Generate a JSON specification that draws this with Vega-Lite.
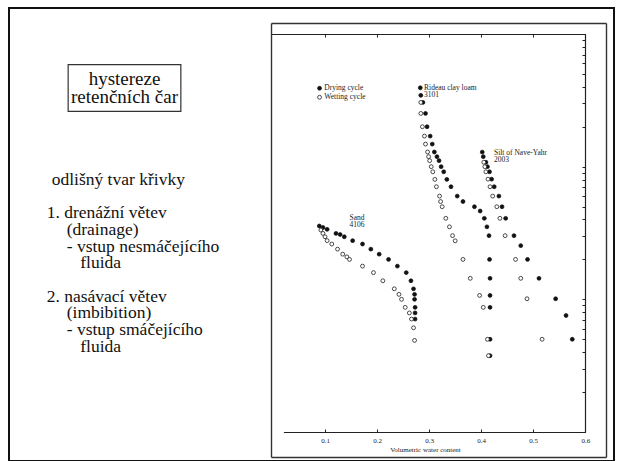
{
  "$schema": "https://vega.github.io/schema/vega-lite/v6.json",
  "width": 605,
  "height": 453,
  "autosize": {"type": "none"},
  "padding": {"left": 9, "top": 8, "right": 4, "bottom": 0},
  "background": "white",
  "config": {
    "view": {"stroke": "#111", "strokeWidth": 2},
    "font": "Liberation Serif, Times New Roman, serif",
    "text": {"font": "Liberation Serif, Times New Roman, serif"},
    "axis": {"grid": false, "domainColor": "#222", "tickColor": "#222", "labelFlush": false, "labelOverlap": false}
  },
  "datasets": {
    "title": [
      {"text": ["hystereze", "retenčních čar"], "line": -5.52, "indent": 15.56}
    ],
    "body": [
      {"text": "odlišný tvar křivky", "line": 0, "indent": 1},
      {"text": "1. drenážní větev", "line": 2, "indent": 0},
      {"text": "(drainage)", "line": 3, "indent": 4},
      {"text": "- vstup nesmáčejícího", "line": 4, "indent": 4},
      {"text": "fluida", "line": 5, "indent": 6.7},
      {"text": "2. nasávací větev", "line": 7, "indent": 0},
      {"text": "(imbibition)", "line": 8, "indent": 4},
      {"text": "- vstup smáčejícího", "line": 9, "indent": 4},
      {"text": "fluida", "line": 10, "indent": 6.7}
    ],
    "labels": [
      {"text": ["Sand", "4106"], "wc": 0.1471, "suction": 38.4},
      {"text": ["Rideau clay loam", "3101"], "wc": 0.2902, "suction": 369.5},
      {"text": ["Silt of Nave-Yahr", "2003"], "wc": 0.4246, "suction": 119.8}
    ],
    "points": [
      {"soil": "Sand", "cycle": "Drying cycle", "wc": 0.089, "suction": 35.7},
      {"soil": "Sand", "cycle": "Drying cycle", "wc": 0.096, "suction": 34.8},
      {"soil": "Sand", "cycle": "Drying cycle", "wc": 0.104, "suction": 33.7},
      {"soil": "Sand", "cycle": "Drying cycle", "wc": 0.121, "suction": 31.4},
      {"soil": "Sand", "cycle": "Drying cycle", "wc": 0.129, "suction": 30.8},
      {"soil": "Sand", "cycle": "Drying cycle", "wc": 0.137, "suction": 29.6},
      {"soil": "Sand", "cycle": "Drying cycle", "wc": 0.153, "suction": 27.7},
      {"soil": "Sand", "cycle": "Drying cycle", "wc": 0.172, "suction": 26.1},
      {"soil": "Sand", "cycle": "Drying cycle", "wc": 0.188, "suction": 23.9},
      {"soil": "Sand", "cycle": "Drying cycle", "wc": 0.204, "suction": 21.9},
      {"soil": "Sand", "cycle": "Drying cycle", "wc": 0.222, "suction": 20.0},
      {"soil": "Sand", "cycle": "Drying cycle", "wc": 0.239, "suction": 17.8},
      {"soil": "Sand", "cycle": "Drying cycle", "wc": 0.256, "suction": 15.9},
      {"soil": "Sand", "cycle": "Drying cycle", "wc": 0.265, "suction": 13.8},
      {"soil": "Sand", "cycle": "Drying cycle", "wc": 0.270, "suction": 12.0},
      {"soil": "Sand", "cycle": "Drying cycle", "wc": 0.272, "suction": 10.9},
      {"soil": "Sand", "cycle": "Drying cycle", "wc": 0.272, "suction": 10.0},
      {"soil": "Sand", "cycle": "Drying cycle", "wc": 0.273, "suction": 8.7},
      {"soil": "Sand", "cycle": "Drying cycle", "wc": 0.273, "suction": 7.9},
      {"soil": "Sand", "cycle": "Drying cycle", "wc": 0.273, "suction": 7.1},
      {"soil": "Sand", "cycle": "Wetting cycle", "wc": 0.092, "suction": 33.3},
      {"soil": "Sand", "cycle": "Wetting cycle", "wc": 0.096, "suction": 31.4},
      {"soil": "Sand", "cycle": "Wetting cycle", "wc": 0.100, "suction": 29.6},
      {"soil": "Sand", "cycle": "Wetting cycle", "wc": 0.104, "suction": 27.7},
      {"soil": "Sand", "cycle": "Wetting cycle", "wc": 0.113, "suction": 26.1},
      {"soil": "Sand", "cycle": "Wetting cycle", "wc": 0.124, "suction": 23.9},
      {"soil": "Sand", "cycle": "Wetting cycle", "wc": 0.134, "suction": 21.9},
      {"soil": "Sand", "cycle": "Wetting cycle", "wc": 0.142, "suction": 20.9},
      {"soil": "Sand", "cycle": "Wetting cycle", "wc": 0.147, "suction": 20.0},
      {"soil": "Sand", "cycle": "Wetting cycle", "wc": 0.172, "suction": 17.8},
      {"soil": "Sand", "cycle": "Wetting cycle", "wc": 0.193, "suction": 15.9},
      {"soil": "Sand", "cycle": "Wetting cycle", "wc": 0.211, "suction": 13.8},
      {"soil": "Sand", "cycle": "Wetting cycle", "wc": 0.233, "suction": 12.0},
      {"soil": "Sand", "cycle": "Wetting cycle", "wc": 0.242, "suction": 10.9},
      {"soil": "Sand", "cycle": "Wetting cycle", "wc": 0.247, "suction": 10.0},
      {"soil": "Sand", "cycle": "Wetting cycle", "wc": 0.254, "suction": 8.7},
      {"soil": "Sand", "cycle": "Wetting cycle", "wc": 0.262, "suction": 7.9},
      {"soil": "Sand", "cycle": "Wetting cycle", "wc": 0.266, "suction": 7.1},
      {"soil": "Sand", "cycle": "Wetting cycle", "wc": 0.270, "suction": 6.1},
      {"soil": "Sand", "cycle": "Wetting cycle", "wc": 0.272, "suction": 4.9},
      {"soil": "Rideau clay loam", "cycle": "Drying cycle", "wc": 0.283, "suction": 393},
      {"soil": "Rideau clay loam", "cycle": "Drying cycle", "wc": 0.284, "suction": 345},
      {"soil": "Rideau clay loam", "cycle": "Drying cycle", "wc": 0.288, "suction": 305},
      {"soil": "Rideau clay loam", "cycle": "Drying cycle", "wc": 0.293, "suction": 252},
      {"soil": "Rideau clay loam", "cycle": "Drying cycle", "wc": 0.296, "suction": 200},
      {"soil": "Rideau clay loam", "cycle": "Drying cycle", "wc": 0.302, "suction": 170},
      {"soil": "Rideau clay loam", "cycle": "Drying cycle", "wc": 0.306, "suction": 148},
      {"soil": "Rideau clay loam", "cycle": "Drying cycle", "wc": 0.310, "suction": 129},
      {"soil": "Rideau clay loam", "cycle": "Drying cycle", "wc": 0.315, "suction": 119},
      {"soil": "Rideau clay loam", "cycle": "Drying cycle", "wc": 0.319, "suction": 111},
      {"soil": "Rideau clay loam", "cycle": "Drying cycle", "wc": 0.323, "suction": 100},
      {"soil": "Rideau clay loam", "cycle": "Drying cycle", "wc": 0.328, "suction": 91.5},
      {"soil": "Rideau clay loam", "cycle": "Drying cycle", "wc": 0.334, "suction": 80.2},
      {"soil": "Rideau clay loam", "cycle": "Drying cycle", "wc": 0.342, "suction": 70.6},
      {"soil": "Rideau clay loam", "cycle": "Drying cycle", "wc": 0.354, "suction": 60},
      {"soil": "Rideau clay loam", "cycle": "Drying cycle", "wc": 0.365, "suction": 54.6},
      {"soil": "Rideau clay loam", "cycle": "Drying cycle", "wc": 0.387, "suction": 49.9},
      {"soil": "Rideau clay loam", "cycle": "Drying cycle", "wc": 0.398, "suction": 46.3},
      {"soil": "Rideau clay loam", "cycle": "Drying cycle", "wc": 0.406, "suction": 40.8},
      {"soil": "Rideau clay loam", "cycle": "Drying cycle", "wc": 0.411, "suction": 35.2},
      {"soil": "Rideau clay loam", "cycle": "Drying cycle", "wc": 0.415, "suction": 30.2},
      {"soil": "Rideau clay loam", "cycle": "Drying cycle", "wc": 0.416, "suction": 20.0},
      {"soil": "Rideau clay loam", "cycle": "Drying cycle", "wc": 0.417, "suction": 14.4},
      {"soil": "Rideau clay loam", "cycle": "Drying cycle", "wc": 0.417, "suction": 10.7},
      {"soil": "Rideau clay loam", "cycle": "Drying cycle", "wc": 0.417, "suction": 8.7},
      {"soil": "Rideau clay loam", "cycle": "Drying cycle", "wc": 0.417, "suction": 5.0},
      {"soil": "Rideau clay loam", "cycle": "Drying cycle", "wc": 0.417, "suction": 3.76},
      {"soil": "Rideau clay loam", "cycle": "Wetting cycle", "wc": 0.284, "suction": 305},
      {"soil": "Rideau clay loam", "cycle": "Wetting cycle", "wc": 0.284, "suction": 252},
      {"soil": "Rideau clay loam", "cycle": "Wetting cycle", "wc": 0.287, "suction": 200},
      {"soil": "Rideau clay loam", "cycle": "Wetting cycle", "wc": 0.291, "suction": 170},
      {"soil": "Rideau clay loam", "cycle": "Wetting cycle", "wc": 0.293, "suction": 148},
      {"soil": "Rideau clay loam", "cycle": "Wetting cycle", "wc": 0.297, "suction": 129},
      {"soil": "Rideau clay loam", "cycle": "Wetting cycle", "wc": 0.299, "suction": 119},
      {"soil": "Rideau clay loam", "cycle": "Wetting cycle", "wc": 0.301, "suction": 111},
      {"soil": "Rideau clay loam", "cycle": "Wetting cycle", "wc": 0.304, "suction": 100},
      {"soil": "Rideau clay loam", "cycle": "Wetting cycle", "wc": 0.307, "suction": 91.5},
      {"soil": "Rideau clay loam", "cycle": "Wetting cycle", "wc": 0.311, "suction": 80.2},
      {"soil": "Rideau clay loam", "cycle": "Wetting cycle", "wc": 0.314, "suction": 70.6},
      {"soil": "Rideau clay loam", "cycle": "Wetting cycle", "wc": 0.320, "suction": 60},
      {"soil": "Rideau clay loam", "cycle": "Wetting cycle", "wc": 0.322, "suction": 54.6},
      {"soil": "Rideau clay loam", "cycle": "Wetting cycle", "wc": 0.325, "suction": 49.9},
      {"soil": "Rideau clay loam", "cycle": "Wetting cycle", "wc": 0.332, "suction": 40.8},
      {"soil": "Rideau clay loam", "cycle": "Wetting cycle", "wc": 0.339, "suction": 35.2},
      {"soil": "Rideau clay loam", "cycle": "Wetting cycle", "wc": 0.345, "suction": 30.2},
      {"soil": "Rideau clay loam", "cycle": "Wetting cycle", "wc": 0.350, "suction": 27.6},
      {"soil": "Rideau clay loam", "cycle": "Wetting cycle", "wc": 0.365, "suction": 20.0},
      {"soil": "Rideau clay loam", "cycle": "Wetting cycle", "wc": 0.379, "suction": 14.4},
      {"soil": "Rideau clay loam", "cycle": "Wetting cycle", "wc": 0.397, "suction": 10.7},
      {"soil": "Rideau clay loam", "cycle": "Wetting cycle", "wc": 0.404, "suction": 8.7},
      {"soil": "Rideau clay loam", "cycle": "Wetting cycle", "wc": 0.412, "suction": 5.0},
      {"soil": "Rideau clay loam", "cycle": "Wetting cycle", "wc": 0.414, "suction": 3.76},
      {"soil": "Silt of Nave-Yahr", "cycle": "Drying cycle", "wc": 0.402, "suction": 128.8},
      {"soil": "Silt of Nave-Yahr", "cycle": "Drying cycle", "wc": 0.404, "suction": 119},
      {"soil": "Silt of Nave-Yahr", "cycle": "Drying cycle", "wc": 0.409, "suction": 108},
      {"soil": "Silt of Nave-Yahr", "cycle": "Drying cycle", "wc": 0.412, "suction": 100},
      {"soil": "Silt of Nave-Yahr", "cycle": "Drying cycle", "wc": 0.416, "suction": 91.5},
      {"soil": "Silt of Nave-Yahr", "cycle": "Drying cycle", "wc": 0.420, "suction": 80.5},
      {"soil": "Silt of Nave-Yahr", "cycle": "Drying cycle", "wc": 0.425, "suction": 70.6},
      {"soil": "Silt of Nave-Yahr", "cycle": "Drying cycle", "wc": 0.434, "suction": 60},
      {"soil": "Silt of Nave-Yahr", "cycle": "Drying cycle", "wc": 0.440, "suction": 49.9},
      {"soil": "Silt of Nave-Yahr", "cycle": "Drying cycle", "wc": 0.447, "suction": 40.8},
      {"soil": "Silt of Nave-Yahr", "cycle": "Drying cycle", "wc": 0.463, "suction": 30.2},
      {"soil": "Silt of Nave-Yahr", "cycle": "Drying cycle", "wc": 0.476, "suction": 25.4},
      {"soil": "Silt of Nave-Yahr", "cycle": "Drying cycle", "wc": 0.489, "suction": 20.0},
      {"soil": "Silt of Nave-Yahr", "cycle": "Drying cycle", "wc": 0.511, "suction": 14.4},
      {"soil": "Silt of Nave-Yahr", "cycle": "Drying cycle", "wc": 0.543, "suction": 10.1},
      {"soil": "Silt of Nave-Yahr", "cycle": "Drying cycle", "wc": 0.563, "suction": 7.55},
      {"soil": "Silt of Nave-Yahr", "cycle": "Drying cycle", "wc": 0.575, "suction": 5.0},
      {"soil": "Silt of Nave-Yahr", "cycle": "Wetting cycle", "wc": 0.405, "suction": 108},
      {"soil": "Silt of Nave-Yahr", "cycle": "Wetting cycle", "wc": 0.407, "suction": 100},
      {"soil": "Silt of Nave-Yahr", "cycle": "Wetting cycle", "wc": 0.409, "suction": 91.5},
      {"soil": "Silt of Nave-Yahr", "cycle": "Wetting cycle", "wc": 0.413, "suction": 80.5},
      {"soil": "Silt of Nave-Yahr", "cycle": "Wetting cycle", "wc": 0.417, "suction": 70.6},
      {"soil": "Silt of Nave-Yahr", "cycle": "Wetting cycle", "wc": 0.422, "suction": 60},
      {"soil": "Silt of Nave-Yahr", "cycle": "Wetting cycle", "wc": 0.430, "suction": 49.9},
      {"soil": "Silt of Nave-Yahr", "cycle": "Wetting cycle", "wc": 0.436, "suction": 40.8},
      {"soil": "Silt of Nave-Yahr", "cycle": "Wetting cycle", "wc": 0.446, "suction": 30.2},
      {"soil": "Silt of Nave-Yahr", "cycle": "Wetting cycle", "wc": 0.466, "suction": 20.0},
      {"soil": "Silt of Nave-Yahr", "cycle": "Wetting cycle", "wc": 0.476, "suction": 14.4},
      {"soil": "Silt of Nave-Yahr", "cycle": "Wetting cycle", "wc": 0.488, "suction": 10.1},
      {"soil": "Silt of Nave-Yahr", "cycle": "Wetting cycle", "wc": 0.517, "suction": 5.0}
    ]
  },
  "layer": [
    {
      "layer": [
        {
          "data": {"name": "title"},
          "mark": {"type": "point", "shape": "M-1,-0.4144H1V0.4144H-1Z", "size": 12701, "filled": false, "stroke": "#333", "strokeWidth": 1.2, "opacity": 1},
          "encoding": {
            "x": {"field": "indent", "type": "quantitative", "scale": {"domain": [0, 10], "range": [37.7, 87.7], "zero": false, "nice": false}, "axis": null},
            "y": {"field": "line", "type": "quantitative", "scale": {"domain": [0, 10], "range": [172, 338.7], "zero": false, "nice": false}, "axis": null}
          }
        },
        {
          "data": {"name": "title"},
          "mark": {"type": "text", "align": "center", "baseline": "middle", "dy": -8.7, "fontSize": 19, "lineHeight": 17.4, "font": "Liberation Serif, Times New Roman, serif", "color": "#111"},
          "encoding": {
            "x": {"field": "indent", "type": "quantitative"},
            "y": {"field": "line", "type": "quantitative"},
            "text": {"field": "text"}
          }
        },
        {
          "data": {"name": "body"},
          "mark": {"type": "text", "align": "left", "baseline": "middle", "fontSize": 17.5, "font": "Liberation Serif, Times New Roman, serif", "color": "#111"},
          "encoding": {
            "x": {"field": "indent", "type": "quantitative"},
            "y": {"field": "line", "type": "quantitative"},
            "text": {"field": "text"}
          }
        }
      ]
    },
    {
      "data": {"name": "points"},
      "mark": {"type": "point", "opacity": 0},
      "encoding": {
        "x": {"field": "wc", "type": "quantitative", "scale": {"domain": [0, 1], "range": [262, 597], "zero": false, "nice": false},
          "axis": {"orient": "bottom", "offset": -4, "values": [], "ticks": false, "labels": false, "title": null, "domainColor": "#333", "domainWidth": 1.4}},
        "y": {"field": "suction", "type": "quantitative", "scale": {"domain": [0, 1000], "range": [449, 15], "zero": false, "nice": false},
          "axis": {"orient": "left", "offset": -262, "values": [], "ticks": false, "labels": false, "title": null, "domainColor": "#333", "domainWidth": 1.4}}
      }
    },
    {
      "data": {"name": "points"},
      "mark": {"type": "point", "opacity": 0},
      "encoding": {
        "x": {"field": "wc", "type": "quantitative", "scale": {"domain": [0, 1], "range": [262, 597], "zero": false, "nice": false},
          "axis": {"orient": "top", "offset": -15, "values": [], "ticks": false, "labels": false, "title": null, "domainColor": "#333", "domainWidth": 1.4}},
        "y": {"field": "suction", "type": "quantitative", "scale": {"domain": [0, 1000], "range": [449, 15], "zero": false, "nice": false},
          "axis": {"orient": "right", "offset": -8, "values": [], "ticks": false, "labels": false, "title": null, "domainColor": "#333", "domainWidth": 1.4}}
      }
    },
    {
      "data": {"name": "points"},
      "mark": {"type": "point", "filled": true, "size": 15, "stroke": "#111", "strokeWidth": 0.75, "opacity": 1},
      "encoding": {
        "x": {"field": "wc", "type": "quantitative", "scale": {"domain": [0.02, 0.6], "range": [274.4, 576.3], "zero": false, "nice": false},
          "axis": {"orient": "bottom", "offset": -29, "values": [0.1, 0.2, 0.3, 0.4, 0.5, 0.6], "format": ".1f", "tickSize": -3, "tickWidth": 1, "domainWidth": 1.2,
            "labelFont": "Liberation Serif, Times New Roman, serif", "labelFontSize": 7, "labelColor": "#222", "labelPadding": 7.5,
            "title": "Volumetric water content", "titleFont": "Liberation Serif, Times New Roman, serif", "titleFontSize": 7, "titleFontWeight": "normal", "titleColor": "#222", "titleX": 416, "titleY": 17, "titleBaseline": "middle"}},
        "y": {"field": "suction", "type": "quantitative", "scale": {"type": "log", "domain": [1, 1000], "range": [424, 26], "nice": false},
          "axis": {"orient": "right", "offset": -29, "values": [1, 2, 3, 4, 5, 6, 7, 8, 9, 10, 20, 30, 40, 50, 60, 70, 80, 90, 100, 200, 300, 400, 500, 600, 700, 800, 900, 1000], "tickSize": -3, "tickWidth": 1, "domainWidth": 1.2, "labels": false, "title": null}},
        "fill": {"field": "cycle", "type": "nominal", "scale": {"domain": ["Drying cycle", "Wetting cycle"], "range": ["#111111", "#ffffff"]},
          "legend": {"orient": "none", "legendX": 306.8, "legendY": 76.5, "title": null, "labelFont": "Liberation Serif, Times New Roman, serif", "labelFontSize": 7.5, "labelColor": "#222",
            "symbolSize": 15, "symbolType": "circle", "symbolStrokeColor": "#111", "symbolStrokeWidth": 0.75, "rowPadding": 0, "padding": 0, "labelOffset": 1}}
      }
    },
    {
      "data": {"name": "labels"},
      "mark": {"type": "text", "align": "left", "baseline": "middle", "dy": -3.65, "fontSize": 7.5, "lineHeight": 7.3, "font": "Liberation Serif, Times New Roman, serif", "color": "#222"},
      "encoding": {
        "x": {"field": "wc", "type": "quantitative", "scale": {"domain": [-0.0033, 0.6], "range": [262.3, 576.3], "zero": false, "nice": false},
          "axis": {"orient": "top", "offset": -26, "values": [0.1, 0.2, 0.3, 0.4, 0.5, 0.6], "tickSize": -3, "tickWidth": 1, "domainWidth": 1.2, "labels": false, "title": null}},
        "y": {"field": "suction", "type": "quantitative", "scale": {"type": "log", "domain": [1, 1000], "range": [424, 26], "nice": false}, "axis": null},
        "text": {"field": "text"}
      }
    }
  ],
  "resolve": {"scale": {"x": "independent", "y": "independent"}}
}
